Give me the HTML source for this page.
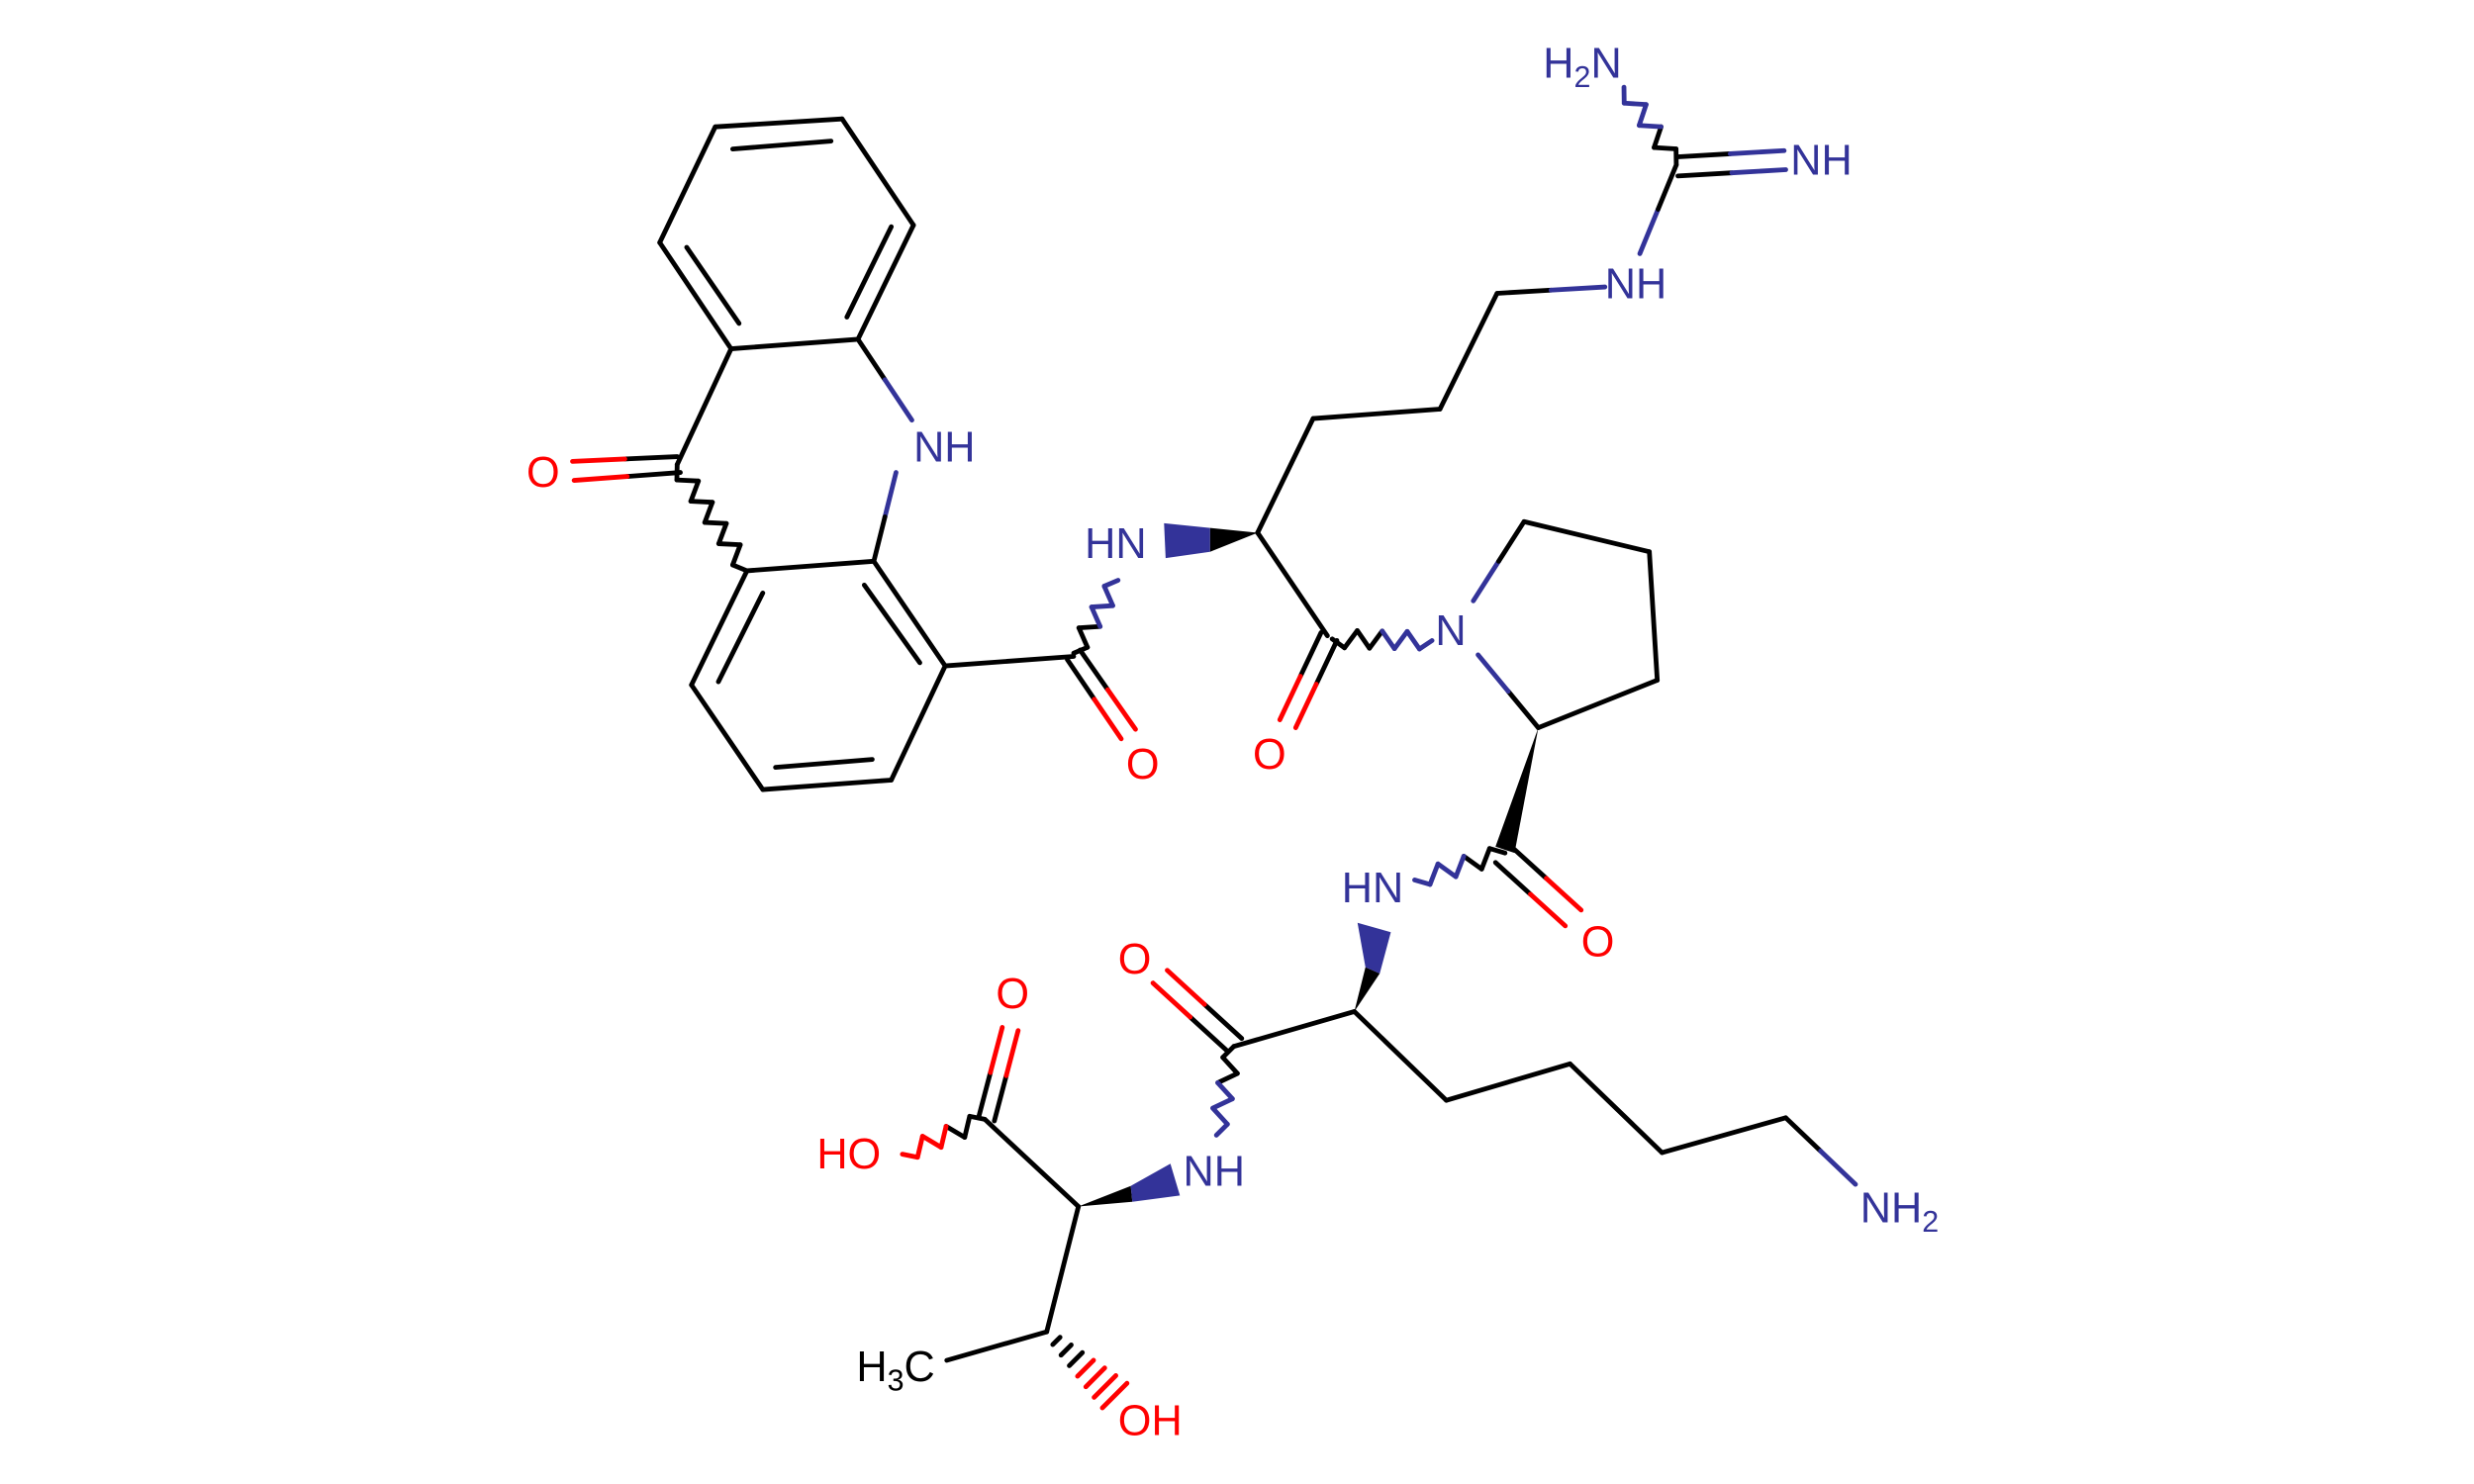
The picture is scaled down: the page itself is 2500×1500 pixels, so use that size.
<!DOCTYPE html>
<html><head><meta charset="utf-8"><style>
html,body{margin:0;padding:0;background:#fff;width:2500px;height:1500px;overflow:hidden}
svg text{font-family:"Liberation Sans",sans-serif;font-size:27px}
</style></head><body>
<svg id="s" width="2500" height="1500" viewBox="0 0 1560 936" xmlns="http://www.w3.org/2000/svg">
<g transform="translate(-3,-2)">
<g id="g" stroke-width="3" stroke-linecap="round" fill="none"></g>
<g fill="#333399">
<text x="579" y="293">NH</text>
<text x="687" y="354">HN</text>
<text x="1015" y="190">NH</text>
<text x="1132" y="112">NH</text>
<text x="976" y="51">H<tspan font-size="19" dy="6">2</tspan><tspan dy="-6">N</tspan></text>
<text x="908" y="409">N</text>
<text x="849" y="571">HN</text>
<text x="749" y="750">NH</text>
<text x="1176" y="773">NH<tspan font-size="19" dy="6">2</tspan></text>
</g>
<g fill="#ff0000">
<text x="335" y="309">O</text>
<text x="713" y="493">O</text>
<text x="793" y="487">O</text>
<text x="1000" y="605">O</text>
<text x="708" y="616">O</text>
<text x="631" y="638">O</text>
<text x="518" y="739">HO</text>
<text x="708" y="907">OH</text>
</g>
<text x="543" y="873" fill="#000">H<tspan font-size="19" dy="6">3</tspan><tspan dy="-6">C</tspan></text>
<polygon points="796,338 766,350 766,335" fill="#000"/>
<polygon points="766,350 738,354 737,332 766,335" fill="#333399"/>
<polygon points="973,461 958,540 946,536" fill="#000"/>
<polygon points="857,640 864,612 873,616" fill="#000"/>
<polygon points="864,612 859,584 880,590 873,616" fill="#333399"/>
<polygon points="683,763 716,750 717,760" fill="#000"/>
<polygon points="716,750 741,736 747,756 717,760" fill="#333399"/>
</g>
</svg>
<script>
var g=document.getElementById('g'),B='#000',N='#333399',O='#ff0000';
function L(a,b,c,d,col){var l=document.createElementNS('http://www.w3.org/2000/svg','line');l.setAttribute('x1',a);l.setAttribute('y1',b);l.setAttribute('x2',c);l.setAttribute('y2',d);l.setAttribute('stroke',col);g.appendChild(l);}
function H(a,b,c,d,c1,c2){var mx=(a+c)/2,my=(b+d)/2;L(a,b,mx,my,c1);L(mx,my,c,d,c2);}
function W(a,b,c,d,c1,c2){var dx=c-a,dy=d-b,len=Math.hypot(dx,dy),n=Math.max(4,Math.round(len/8)),px=-dy/len*5.5,py=dx/len*5.5;
 for(var i=0;i<n;i++){var t0=i/n,t1=(i+1)/n,s0=(i==0)?0:(i%2?1:-1),s1=(i+1==n)?0:((i+1)%2?1:-1);
 L(a+dx*t0+px*s0,b+dy*t0+py*s0,a+dx*t1+px*s1,b+dy*t1+py*s1,t1<=0.5?c1:c2);}}
L(454,82,534,77,B);L(534,77,579,144,B);L(579,144,544,216,B);L(544,216,464,222,B);L(464,222,419,155,B);L(419,155,454,82,B);
L(465,96,527,91,B);L(565,145,537,202,B);L(469,206,436,158,B);
H(544,216,578,267,B,N);H(568,300,554,356,N,B);
L(464,222,430,295,B);H(430,290,364,293,B,O);H(432,300,365,305,B,O);
W(430,295,474,362,B,B);
L(474,362,554,356,B);L(554,356,599,422,B);L(599,422,565,494,B);L(565,494,484,500,B);L(484,500,439,434,B);L(439,434,474,362,B);
L(484,376,456,432,B);L(548,371,583,420,B);L(553,481,492,486,B);
L(599,422,680,416,B);H(676,418,710,468,B,O);H(684,412,719,462,B,O);
W(680,414,708,368,B,N);
L(796,338,831,266,B);L(831,266,911,260,B);L(911,260,947,187,B);H(947,187,1015,183,B,N);
H(1037,162,1060,106,N,B);H(1060,101,1128,97,B,N);H(1061,113,1129,109,B,N);W(1060,106,1027,57,B,N);
L(796,338,840,403,B);H(836,401,810,456,B,O);H(846,406,820,461,B,O);W(843,405,906,406,B,N);
H(932,381,964,331,N,B);L(964,331,1043,350,B);L(1043,350,1048,431,B);L(1048,431,973,461,B);H(973,461,935,415,B,N);
H(956,536,1000,576,B,O);H(946,546,990,586,B,O);W(952,540,895,557,B,N);
L(857,640,915,696,B);L(915,696,993,673,B);L(993,673,1051,729,B);L(1051,729,1129,707,B);H(1129,707,1173,749,B,N);
L(857,640,781,662,B);H(777,665,730,622,B,O);H(786,657,739,614,B,O);W(781,662,770,718,B,N);
L(683,763,624,708,B);H(620,707,635,650,B,O);H(630,709,645,652,B,O);W(624,708,572,730,B,O);
L(683,763,663,842,B);L(663,842,600,860,B);
for(var i=1;i<=7;i++){var t=i/8,x=663+(712-663)*t,y=842+(888-842)*t,w=2+i*1.3;L(x-w*0.7,y+w*0.7,x+w*0.7,y-w*0.7,t<0.5?B:O);}
</script>
</body></html>
